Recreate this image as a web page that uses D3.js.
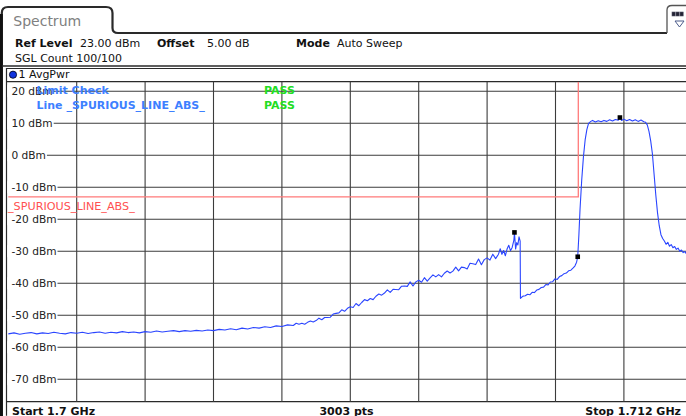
<!DOCTYPE html>
<html><head><meta charset="utf-8">
<script src="https://cdn.jsdelivr.net/npm/d3@7/dist/d3.min.js"></script>
<style>
html,body{margin:0;padding:0;background:#fff;overflow:hidden}
svg{display:block;font-family:"DejaVu Sans",Verdana,sans-serif}
</style></head><body>
<svg id="c" width="686" height="416"></svg>
<script>
// ---------- data ----------
const yTickValues = [20, 10, 0, -10, -20, -30, -40, -50, -60, -70];
const yTickLabels = ["20 dBm", "10 dBm", "0 dBm", "-10 dBm", "-20 dBm", "-30 dBm", "-40 dBm", "-50 dBm", "-60 dBm", "-70 dBm"];
const xGridMHz = [1701.2, 1702.4, 1703.6, 1704.8, 1706.0, 1707.2, 1708.4, 1709.6, 1710.8];
const freqDomainMHz = [1700, 1712];
const levelDomainDbm = [-77, 23];
const limitFreqMHz = [1700, 1710, 1710];
const limitLevelDbm = [-13, -13, 23];
const markerFreqMHz = [1708.88, 1709.99, 1710.73];
const markerLevelDbm = [-24.1, -31.7, 11.8];
const limitResults = [["Limit Check", "PASS"], ["Line _SPURIOUS_LINE_ABS_", "PASS"]];

// trace: [frequency MHz, level dBm]
const noiseFloor = [
 [1700.0,-55.8],[1700.1,-55.5],[1700.2,-55.9],[1700.3,-55.6],[1700.4,-55.4],[1700.5,-55.8],[1700.6,-55.5],[1700.7,-55.7],
 [1700.8,-55.3],[1700.9,-55.6],[1701.0,-55.8],[1701.1,-55.4],[1701.2,-55.6],[1701.3,-55.3],[1701.4,-55.7],[1701.5,-55.4],
 [1701.6,-55.2],[1701.7,-55.6],[1701.8,-55.3],[1701.9,-55.5],[1702.0,-55.1],[1702.1,-55.4],[1702.2,-55.2],[1702.3,-55.5],
 [1702.4,-55.1],[1702.5,-55.3],[1702.6,-54.9],[1702.7,-55.2],[1702.8,-55.0],[1702.9,-54.8],[1703.0,-55.1],[1703.1,-54.8],
 [1703.2,-55.0],[1703.3,-54.7],[1703.4,-54.9],[1703.5,-54.6],[1703.6,-54.8],[1703.7,-54.4],[1703.8,-54.6],[1703.9,-54.2],
 [1704.0,-54.5],[1704.1,-54.0],[1704.2,-54.3],[1704.3,-53.8],[1704.4,-54.0],[1704.5,-53.6],[1704.6,-53.8],[1704.7,-53.3],
 [1704.8,-53.5],[1704.9,-53.0],[1705.0,-53.2]
];
const spurRamp = [
 [1705.05,-52.5],[1705.10,-52.8],[1705.15,-52.5],[1705.20,-52.8],[1705.25,-52.2],[1705.30,-51.8],[1705.35,-52.1],
 [1705.40,-51.65],[1705.45,-50.9],[1705.50,-51.4],[1705.55,-50.7],[1705.60,-50.7],[1705.65,-50.6],[1705.70,-49.6],
 [1705.75,-49.4],[1705.80,-49.25],[1705.85,-48.3],[1705.90,-48.75],[1705.95,-47.8],[1706.00,-47.35],[1706.05,-47.55],
 [1706.10,-46.3],[1706.15,-47.0],[1706.20,-46.0],[1706.25,-45.1],[1706.30,-45.45],[1706.35,-44.75],[1706.40,-45.1],
 [1706.45,-44.05],[1706.50,-43.35],[1706.55,-43.7],[1706.60,-43.05],[1706.65,-42.05],[1706.70,-42.85],[1706.75,-41.9],
 [1706.80,-41.95],[1706.85,-42.0],[1706.90,-40.9],[1706.95,-40.85],[1707.00,-40.95],[1707.05,-39.55],[1707.10,-40.85],
 [1707.15,-39.55],[1707.20,-39.05],[1707.25,-39.65],[1707.30,-38.25],[1707.35,-39.35],[1707.40,-38.3],[1707.45,-37.35],
 [1707.50,-38.0],[1707.55,-37.3],[1707.60,-38.0],[1707.65,-36.85],[1707.70,-36.15],[1707.75,-36.8],[1707.80,-36.2],
 [1707.85,-34.95],[1707.90,-36.1],[1707.95,-34.95],[1708.00,-35.1],[1708.05,-35.5],[1708.10,-33.75],[1708.15,-33.9],
 [1708.20,-34.15],[1708.25,-32.4],[1708.30,-34.2],[1708.35,-32.6],[1708.40,-32.05],[1708.45,-32.75],[1708.50,-30.9],
 [1708.55,-32.3],[1708.60,-30.9],[1708.63,-29.2],[1708.66,-30.95],[1708.69,-29.75],[1708.72,-31.4],[1708.75,-29.3],
 [1708.78,-28.1],[1708.81,-29.8],[1708.84,-28.8],[1708.87,-26.5],[1708.88,-24.1],[1708.90,-29.3],[1708.92,-27.3],
 [1708.94,-28.0],[1708.96,-25.5],[1708.98,-26.8],[1708.985,-44.7]
];
const secondRamp = [
 [1708.99,-44.6],[1709.03,-44.0],[1709.07,-43.9],[1709.11,-43.4],[1709.15,-43.6],[1709.19,-42.8],[1709.23,-42.9],
 [1709.27,-42.1],[1709.31,-41.9],[1709.35,-41.3],[1709.39,-41.2],[1709.43,-40.4],[1709.47,-40.5],[1709.51,-39.6],
 [1709.55,-39.5],[1709.59,-38.6],[1709.63,-38.8],[1709.67,-37.9],[1709.71,-37.6],[1709.75,-37.0],[1709.79,-36.8],
 [1709.83,-36.1],[1709.87,-35.9],[1709.91,-35.2],[1709.94,-34.6],[1709.97,-33.4],[1709.99,-31.7]
];
const carrier = [
 [1710.01,-25.0],[1710.03,-17.0],[1710.06,-7.7],[1710.09,-0.5],[1710.12,4.8],[1710.15,8.0],[1710.18,10.0],[1710.22,10.6],
 [1710.25,10.9],[1710.30,10.4],[1710.35,10.8],[1710.40,10.5],[1710.45,10.9],[1710.50,10.6],[1710.55,11.1],[1710.60,10.7],
 [1710.65,11.2],[1710.70,11.0],[1710.73,11.8],[1710.76,10.9],[1710.80,11.3],[1710.85,10.8],[1710.90,11.2],[1710.95,10.7],
 [1711.00,11.1],[1711.05,10.6],[1711.10,11.0],[1711.15,10.5],[1711.18,10.3],
 [1711.21,9.5],[1711.24,7.5],[1711.27,4.5],[1711.30,0.5],[1711.33,-6.0],[1711.36,-12.5],[1711.39,-18.0],[1711.42,-22.0],
 [1711.45,-24.8],[1711.48,-26.0],[1711.51,-26.8],[1711.54,-27.8],[1711.57,-27.2],[1711.60,-28.4],[1711.63,-27.9],
 [1711.66,-28.9],[1711.69,-28.5],[1711.72,-29.4],[1711.75,-29.0],[1711.78,-30.0],[1711.81,-29.6],[1711.84,-30.4],
 [1711.87,-30.1],[1711.90,-30.9],[1711.93,-30.5],[1711.96,-31.2],[1712.00,-31.0]
];
const trace = noiseFloor.concat(spurRamp, secondRamp, carrier);

// ---------- layout ----------
const W = 686, H = 416;
const plot = {left: 8.3, right: 692.3, top: 81.7, bottom: 401.7};
const svg = d3.select("#c");
const x = d3.scaleLinear().domain(freqDomainMHz).range([plot.left, plot.right]);
const y = d3.scaleLinear().domain(levelDomainDbm).range([plot.bottom, plot.top]);

const dark = "#2a2a2a";

// tab "Spectrum"
svg.append("path")
  .attr("d", "M1.8,416 L1.8,13 Q1.8,7 8,7 L106,7 Q112.5,7 112.5,13 L112.5,28 Q112.5,33 118,33 L667,33")
  .attr("fill", "none").attr("stroke", dark).attr("stroke-width", 2.2);
svg.append("rect").attr("x", 0).attr("y", 14).attr("width", 2.8).attr("height", H).attr("fill", "#111");
svg.append("text").attr("x", 13.3).attr("y", 25.5).attr("font-size", 14).attr("fill", "#808080").text("Spectrum");

// icon at top right
svg.append("path").attr("d", "M667,33 L667,10 Q667,5.5 672,5.5 L690,5.5")
  .attr("fill", "none").attr("stroke", "#555").attr("stroke-width", 1.3);
[672, 676, 680].forEach(px => svg.append("rect").attr("x", px).attr("y", 12).attr("width", 3.2).attr("height", 4)
  .attr("fill", "#223").attr("stroke", "#556").attr("stroke-width", 0.6));
svg.append("path").attr("d", "M675,21 L684,21 L679.5,27 Z").attr("fill", "none").attr("stroke", "#4a5a8a").attr("stroke-width", 1);

// header
const hdr = svg.append("g").attr("font-size", 11).attr("fill", "#111");
hdr.append("text").attr("x", 15).attr("y", 47.3).attr("font-weight", "bold").text("Ref Level");
hdr.append("text").attr("x", 80).attr("y", 47.3).text("23.00 dBm");
hdr.append("text").attr("x", 157).attr("y", 47.3).attr("font-weight", "bold").text("Offset");
hdr.append("text").attr("x", 207).attr("y", 47.3).text("5.00 dB");
hdr.append("text").attr("x", 296).attr("y", 47.3).attr("font-weight", "bold").text("Mode");
hdr.append("text").attr("x", 337).attr("y", 47.3).text("Auto Sweep");
hdr.append("text").attr("x", 15).attr("y", 61.5).text("SGL Count 100/100");

svg.append("line").attr("x1", 2).attr("x2", W).attr("y1", 66).attr("y2", 66).attr("stroke", dark).attr("stroke-width", 1.4);
svg.append("line").attr("x1", 6.5).attr("x2", W).attr("y1", 68.5).attr("y2", 68.5).attr("stroke", dark).attr("stroke-width", 1);

// trace label row
svg.append("circle").attr("cx", 13).attr("cy", 74.7).attr("r", 3.6).attr("fill", "#1133dd").attr("stroke", "#001").attr("stroke-width", 0.8);
svg.append("text").attr("x", 18.5).attr("y", 78.4).attr("font-size", 11).attr("fill", "#111").text("1 AvgPwr");

// plot frame
svg.append("line").attr("x1", 6.5).attr("x2", 6.5).attr("y1", 68).attr("y2", plot.bottom + 14).attr("stroke", dark).attr("stroke-width", 1.2);
svg.append("line").attr("x1", 6.5).attr("x2", W).attr("y1", plot.top).attr("y2", plot.top).attr("stroke", dark).attr("stroke-width", 1.2);
svg.append("line").attr("x1", 6.5).attr("x2", W).attr("y1", plot.bottom).attr("y2", plot.bottom).attr("stroke", dark).attr("stroke-width", 1.2);

// grid
const grid = svg.append("g").attr("stroke", "#3c3c3c").attr("stroke-width", 1.1);
grid.selectAll("line.v").data(xGridMHz).enter().append("line")
  .attr("x1", d => x(d)).attr("x2", d => x(d)).attr("y1", plot.top).attr("y2", plot.bottom);
grid.selectAll("line.h").data(yTickValues).enter().append("line")
  .attr("x1", plot.left).attr("x2", W).attr("y1", d => y(d)).attr("y2", d => y(d));

// y labels with white background
const yl = svg.append("g").attr("font-size", 10.6).attr("fill", "#222");
yTickValues.forEach((v, i) => {
  const g = yl.append("g");
  const r = g.append("rect").attr("fill", "#fff");
  const t = g.append("text").attr("x", 11.5).attr("y", y(v) + 3.9).text(yTickLabels[i]);
  const b = t.node().getBBox();
  r.attr("x", 7.3).attr("y", b.y).attr("width", b.x + b.width + 1 - 7.3).attr("height", b.height);
});

// limit line
svg.append("clipPath").attr("id", "pc").append("rect")
  .attr("x", 7).attr("y", plot.top).attr("width", W).attr("height", plot.bottom - plot.top);
const limitPts = limitFreqMHz.map((f, i) => [f, limitLevelDbm[i]]);
svg.append("path").datum(limitPts).attr("clip-path", "url(#pc)")
  .attr("d", d3.line().x(d => x(d[0])).y(d => y(d[1])))
  .attr("fill", "none").attr("stroke", "#ff7a7a").attr("stroke-width", 1.3);
svg.append("text").attr("x", 8).attr("y", 209.8).attr("font-size", 11.2).attr("fill", "#ff5050").text("_SPURIOUS_LINE_ABS_");

// limit check texts
limitResults.forEach((r, i) => {
  svg.append("text").attr("x", 36.5).attr("y", 93.8 + i * 15.4).attr("font-size", 11).attr("font-weight", "bold")
    .attr("fill", "#3d80ff").text(r[0]);
  svg.append("text").attr("x", 264).attr("y", 93.8 + i * 15.4).attr("font-size", 11).attr("font-weight", "bold")
    .attr("fill", "#22dd22").text(r[1]);
});

// trace
svg.append("path").datum(trace).attr("clip-path", "url(#pc)")
  .attr("d", d3.line().x(d => x(d[0])).y(d => y(d[1])))
  .attr("fill", "none").attr("stroke", "#2a45ff").attr("stroke-width", 1.1).attr("stroke-linejoin", "round");

// markers
svg.selectAll("rect.mk").data(markerFreqMHz).enter().append("rect")
  .attr("x", d => x(d) - 2.3).attr("y", (d, i) => y(markerLevelDbm[i]) - 2.3)
  .attr("width", 4.6).attr("height", 4.6).attr("fill", "#000");

// footer
const ft = svg.append("g").attr("font-size", 11).attr("font-weight", "bold").attr("fill", "#111");
ft.append("text").attr("x", 12).attr("y", 414.5).text("Start 1.7 GHz");
ft.append("text").attr("x", 346.5).attr("y", 414.5).attr("text-anchor", "middle").text("3003 pts");
ft.append("text").attr("x", 681).attr("y", 414.5).attr("text-anchor", "end").text("Stop 1.712 GHz");
</script>
</body></html>
